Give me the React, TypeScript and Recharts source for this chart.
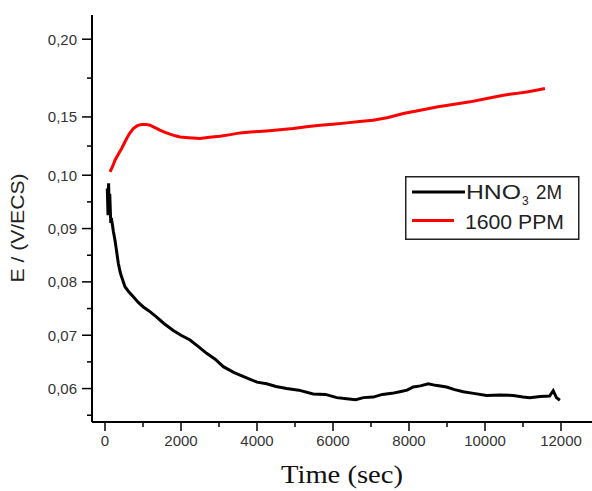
import React from 'react';
import { LineChart, Line, XAxis, YAxis, Legend } from 'recharts';

// Time (s) and potential E (V/ECS)
const hno3Time = [60, 80, 95, 110, 125, 150, 176, 220, 263, 300, 350, 400, 439, 526, 620, 745, 870, 1008, 1150, 1360, 1550, 1797, 2000, 2237, 2450, 2674, 2900, 3113, 3400, 3727, 4000, 4253, 4500, 4779, 5100, 5480, 5800, 6100, 6357, 6600, 6800, 7058, 7300, 7550, 7760, 7950, 8111, 8300, 8506, 8700, 8989, 9200, 9428, 9700, 10042, 10400, 10743, 11000, 11182, 11450, 11700, 11795, 11880, 11970];
const hno3E = [0.0975, 0.0925, 0.0985, 0.0935, 0.0965, 0.0915, 0.0916, 0.0895, 0.0878, 0.0860, 0.0835, 0.0818, 0.0809, 0.0791, 0.0782, 0.0772, 0.0762, 0.0753, 0.0746, 0.0734, 0.0722, 0.0709, 0.0700, 0.0691, 0.0679, 0.0666, 0.0655, 0.0641, 0.0630, 0.0620, 0.0612, 0.0609, 0.0604, 0.0600, 0.0597, 0.0590, 0.0589, 0.0583, 0.0581, 0.0579, 0.0583, 0.0584, 0.0589, 0.0591, 0.0594, 0.0597, 0.0603, 0.0605, 0.0609, 0.0606, 0.0603, 0.0598, 0.0594, 0.0591, 0.0587, 0.0588, 0.0587, 0.0584, 0.0583, 0.0585, 0.0586, 0.0596, 0.0583, 0.0578];

const ppmTime = [132, 200, 263, 350, 439, 500, 570, 650, 745, 850, 965, 1080, 1184, 1300, 1447, 1580, 1710, 1850, 1973, 2200, 2500, 2750, 3026, 3300, 3553, 3900, 4254, 4600, 4955, 5300, 5657, 6000, 6358, 6700, 7058, 7450, 7851, 8300, 8729, 9150, 9605, 10050, 10482, 10800, 11096, 11350, 11577];
const ppmE = [0.1028, 0.1075, 0.1129, 0.1180, 0.1229, 0.1270, 0.1315, 0.1360, 0.1400, 0.1425, 0.1435, 0.1436, 0.1429, 0.1410, 0.1386, 0.1368, 0.1352, 0.1338, 0.1328, 0.1322, 0.1315, 0.1325, 0.1334, 0.1348, 0.1363, 0.1372, 0.1380, 0.1390, 0.1400, 0.1415, 0.1429, 0.1438, 0.1449, 0.1460, 0.1472, 0.1495, 0.1522, 0.1543, 0.1564, 0.1580, 0.1597, 0.1618, 0.1640, 0.1650, 0.1661, 0.1672, 0.1683];

// The figure's y axis is not uniform: tick values and their axis positions
const yTickValues = [0.06, 0.07, 0.08, 0.09, 0.10, 0.15, 0.20];
const yTickPositions = [0, 1, 2, 3, 4, 5.093, 6.55];
const yTickLabels = ['0,06', '0,07', '0,08', '0,09', '0,10', '0,15', '0,20'];

const xMajorTicks = [0, 2000, 4000, 6000, 8000, 10000, 12000];
const xMinorTicks = [1000, 3000, 5000, 7000, 9000, 11000];

const seriesNames = ['HNO3 2M', '1600 PPM'];

function toAxis(E: number): number {
  const v = yTickValues;
  const p = yTickPositions;
  let i = 0;
  if (E <= v[0]) i = 0;
  else if (E >= v[v.length - 1]) i = v.length - 2;
  else {
    for (let k = 0; k < v.length - 1; k++) {
      if (E >= v[k] && E <= v[k + 1]) { i = k; break; }
    }
  }
  return p[i] + ((E - v[i]) / (v[i + 1] - v[i])) * (p[i + 1] - p[i]);
}

const hno3Data = hno3Time.map((t, i) => ({ t, u: toAxis(hno3E[i]) }));
const ppmData = ppmTime.map((t, i) => ({ t, u: toAxis(ppmE[i]) }));

const yMinor = [yTickPositions[0] - 0.5].concat(
  yTickPositions.slice(0, -1).map((p, i) => (p + yTickPositions[i + 1]) / 2)
);
const yAllTicks = [...yTickPositions, ...yMinor].sort((a, b) => a - b);
const xAllTicks = [...xMajorTicks, ...xMinorTicks].sort((a, b) => a - b);

const SANS = "Arial, 'Liberation Sans', sans-serif";
const SERIF = "'Times New Roman', 'Liberation Serif', serif";

const YTick = (props: any) => {
  const { x, y, payload } = props;
  const idx = yTickPositions.findIndex((p) => Math.abs(p - payload.value) < 1e-6);
  const major = idx >= 0;
  return (
    <g>
      <line x1={x - (major ? 10 : 5)} x2={x} y1={y} y2={y} stroke="#000" strokeWidth={1.5} />
      {major && (
        <text x={x - 15} y={y} textAnchor="end" dominantBaseline="central" fontSize={15} fontFamily={SANS} fill="#333">
          {yTickLabels[idx]}
        </text>
      )}
    </g>
  );
};

const XTick = (props: any) => {
  const { x, y, payload } = props;
  const major = xMajorTicks.includes(payload.value);
  return (
    <g>
      <line x1={x} x2={x} y1={y} y2={y + (major ? 9 : 5)} stroke="#000" strokeWidth={1.5} />
      {major && (
        <text x={x} y={y + 24} textAnchor="middle" fontSize={15} fontFamily={SANS} fill="#333">
          {String(payload.value)}
        </text>
      )}
    </g>
  );
};

const XLabel = (props: any) => {
  const vb = props.viewBox || {};
  return (
    <text x={vb.x + vb.width / 2} y={vb.y + 61} textAnchor="middle" fontSize={26} fontFamily={SERIF} fill="#111" textLength={122} lengthAdjust="spacingAndGlyphs">
      Time (sec)
    </text>
  );
};

const YLabel = (props: any) => {
  const vb = props.viewBox || {};
  const cx = vb.x + 17.5;
  const cy = vb.y + vb.height / 2 + 9.5;
  return (
    <text x={cx} y={cy} transform={`rotate(-90 ${cx} ${cy})`} textAnchor="middle" dominantBaseline="central" fontSize={19} fontFamily={SANS} fill="#222" textLength={109} lengthAdjust="spacingAndGlyphs">
      E / (V/ECS)
    </text>
  );
};

const LegendBox = () => (
  <svg width={175} height={64} style={{ display: 'block' }}>
    <rect x={0.75} y={0.75} width={173} height={62.5} fill="#fff" stroke="#222" strokeWidth={1.5} />
    <line x1={7} x2={60} y1={16} y2={16} stroke="#000" strokeWidth={3} />
    <text x={61} y={23} fontSize={20} fontFamily={SANS} fill="#222" textLength={55} lengthAdjust="spacingAndGlyphs">HNO</text>
    <text x={117} y={29} fontSize={12} fontFamily={SANS} fill="#222">3</text>
    <text x={131} y={23} fontSize={20} fontFamily={SANS} fill="#222" textLength={26} lengthAdjust="spacingAndGlyphs">2M</text>
    <line x1={7} x2={49} y1={44.5} y2={44.5} stroke="#ff0000" strokeWidth={3} />
    <text x={60} y={52.5} fontSize={20} fontFamily={SANS} fill="#222" textLength={99} lengthAdjust="spacingAndGlyphs">1600 PPM</text>
  </svg>
);

export default function App() {
  return (
    <div style={{ position: 'absolute', left: 0, top: 0, width: 592, height: 491, background: '#fff' }}>
      <LineChart width={592} height={491} margin={{ top: 15, right: 0, bottom: 0, left: 0 }}>
        <XAxis
          dataKey="t"
          type="number"
          domain={[-342, 12816]}
          allowDataOverflow
          ticks={xAllTicks}
          interval={0}
          tick={<XTick />}
          tickLine={false}
          tickSize={0}
          tickMargin={0}
          height={69}
          axisLine={{ stroke: '#000', strokeWidth: 2 }}
          label={<XLabel />}
        />
        <YAxis
          type="number"
          domain={[-0.627, 7.004]}
          allowDataOverflow
          ticks={yAllTicks}
          interval={0}
          tick={<YTick />}
          tickLine={false}
          tickSize={0}
          tickMargin={0}
          width={92}
          axisLine={{ stroke: '#000', strokeWidth: 2 }}
          label={<YLabel />}
        />
        <Legend
          layout="vertical"
          align="center"
          verticalAlign="middle"
          content={() => <LegendBox />}
          wrapperStyle={{ position: 'absolute', left: 405, top: 176, width: 175, height: 64 }}
        />
        <Line data={ppmData} dataKey="u" name={seriesNames[1]} stroke="#ff0000" strokeWidth={3} dot={false} isAnimationActive={false} type="linear" />
        <Line data={hno3Data} dataKey="u" name={seriesNames[0]} stroke="#000" strokeWidth={3} dot={false} isAnimationActive={false} type="linear" />
      </LineChart>
    </div>
  );
}
